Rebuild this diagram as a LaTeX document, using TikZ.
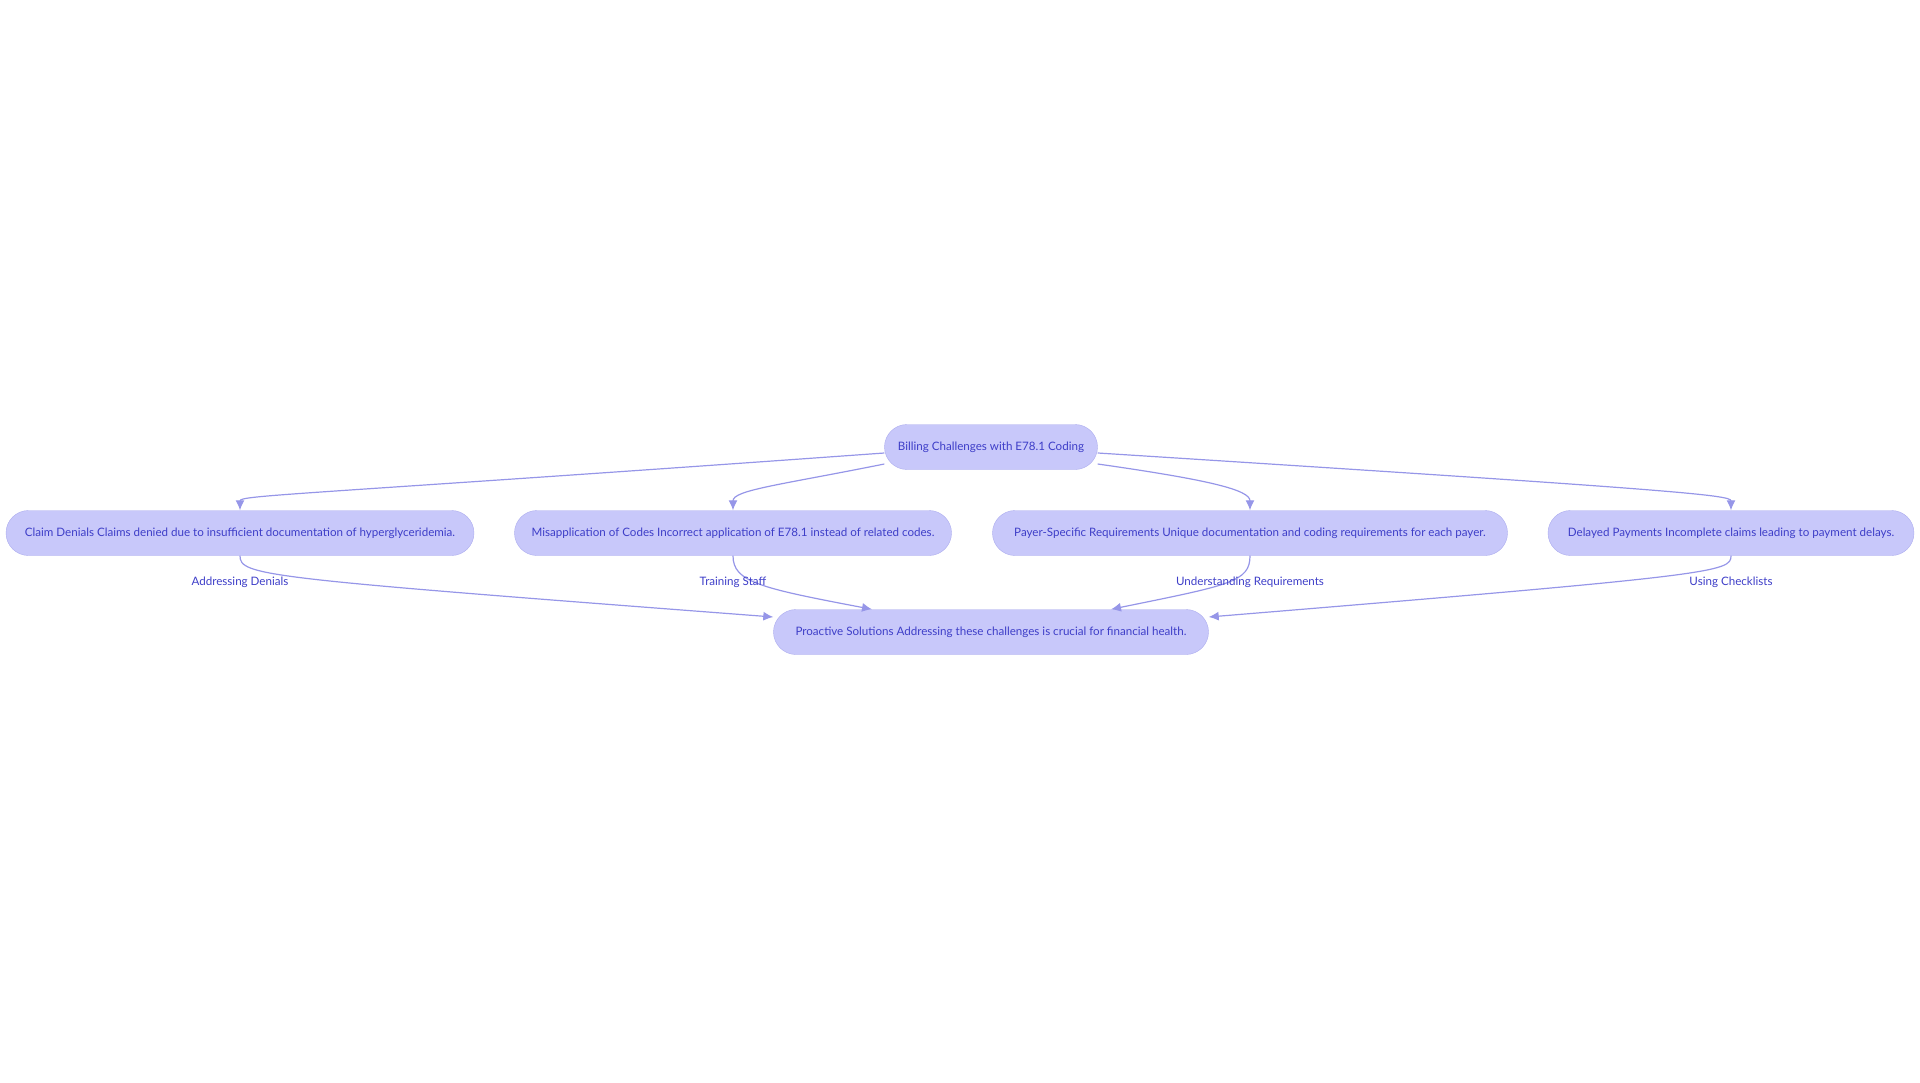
\documentclass[tikz,border=0pt]{standalone}
\usepackage{fontspec}
\setmainfont{Lato}
\usetikzlibrary{arrows.meta}
\definecolor{boxfill}{RGB}{200,200,250}
\definecolor{boxline}{RGB}{172,172,238}
\definecolor{boxtext}{RGB}{62,62,200}
\definecolor{edgeline}{RGB}{150,150,232}
\tikzset{
	chip/.style={draw=boxline, fill=boxfill, text=boxtext, rounded corners=22.5pt, minimum height=45pt, inner xsep=0pt, font=\fontsize{11.6}{14}\selectfont},
	flow/.style={->, draw=edgeline, line width=1.2pt},
	tag/.style={text=boxtext, font=\fontsize{11.6}{14}\selectfont, inner sep=1pt}
}
\begin{document}
\begin{tikzpicture}[>={Latex[length=10pt,width=9pt]}, x=1pt, y=-1pt]
	\useasboundingbox (0,0) rectangle (1920,1083);
	%\draw [help lines, step=100] (0,0) grid (1920,1083);
	\node [chip, minimum width=213pt] (billing) at (991,447) {Billing Challenges with E78.1 Coding};
	\node [chip, minimum width=468pt] (denials) at (240,533) {Claim Denials Claims denied due to insufficient documentation of hyperglyceridemia.};
	\node [chip, minimum width=437pt] (misuse) at (733,533) {Misapplication of Codes Incorrect application of E78.1 instead of related codes.};
	\node [chip, minimum width=515pt] (payer) at (1250,533) {Payer-Specific Requirements Unique documentation and coding requirements for each payer.};
	\node [chip, minimum width=366pt] (delays) at (1731,533) {Delayed Payments Incomplete claims leading to payment delays.};
	\node [chip, minimum width=435pt] (solutions) at (991,632) {Proactive Solutions Addressing these challenges is crucial for financial health.};

	\draw [flow] ([yshift=-6pt]billing.west) .. controls (300,495) and (240,495) .. (denials.north);
	\draw [flow] ([yshift=-17pt]billing.west) .. controls (780,485) and (733,490) .. (misuse.north);
	\draw [flow] ([yshift=-17pt]billing.east) .. controls (1210,480) and (1250,490) .. (payer.north);
	\draw [flow] ([yshift=-6pt]billing.east) .. controls (1680,490) and (1731,495) .. (delays.north);

	\draw [flow] (denials.south) .. controls (240,576) and (262,578) .. ([yshift=15pt]solutions.west);
	\draw [flow] (misuse.south) .. controls (733,582) and (760,588) .. ([xshift=-119pt]solutions.north);
	\draw [flow] (payer.south) .. controls (1250,582) and (1230,585) .. ([xshift=120pt]solutions.north);
	\draw [flow] (delays.south) .. controls (1731,572) and (1720,575) .. ([yshift=15pt]solutions.east);

	\node [tag] (lbl1) at (240,582) {Addressing Denials};
	\node [tag] (lbl2) at (733,582) {Training Staff};
	\node [tag] (lbl3) at (1250,582) {Understanding Requirements};
	\node [tag] (lbl4) at (1731,582) {Using Checklists};
\end{tikzpicture}
\end{document}
